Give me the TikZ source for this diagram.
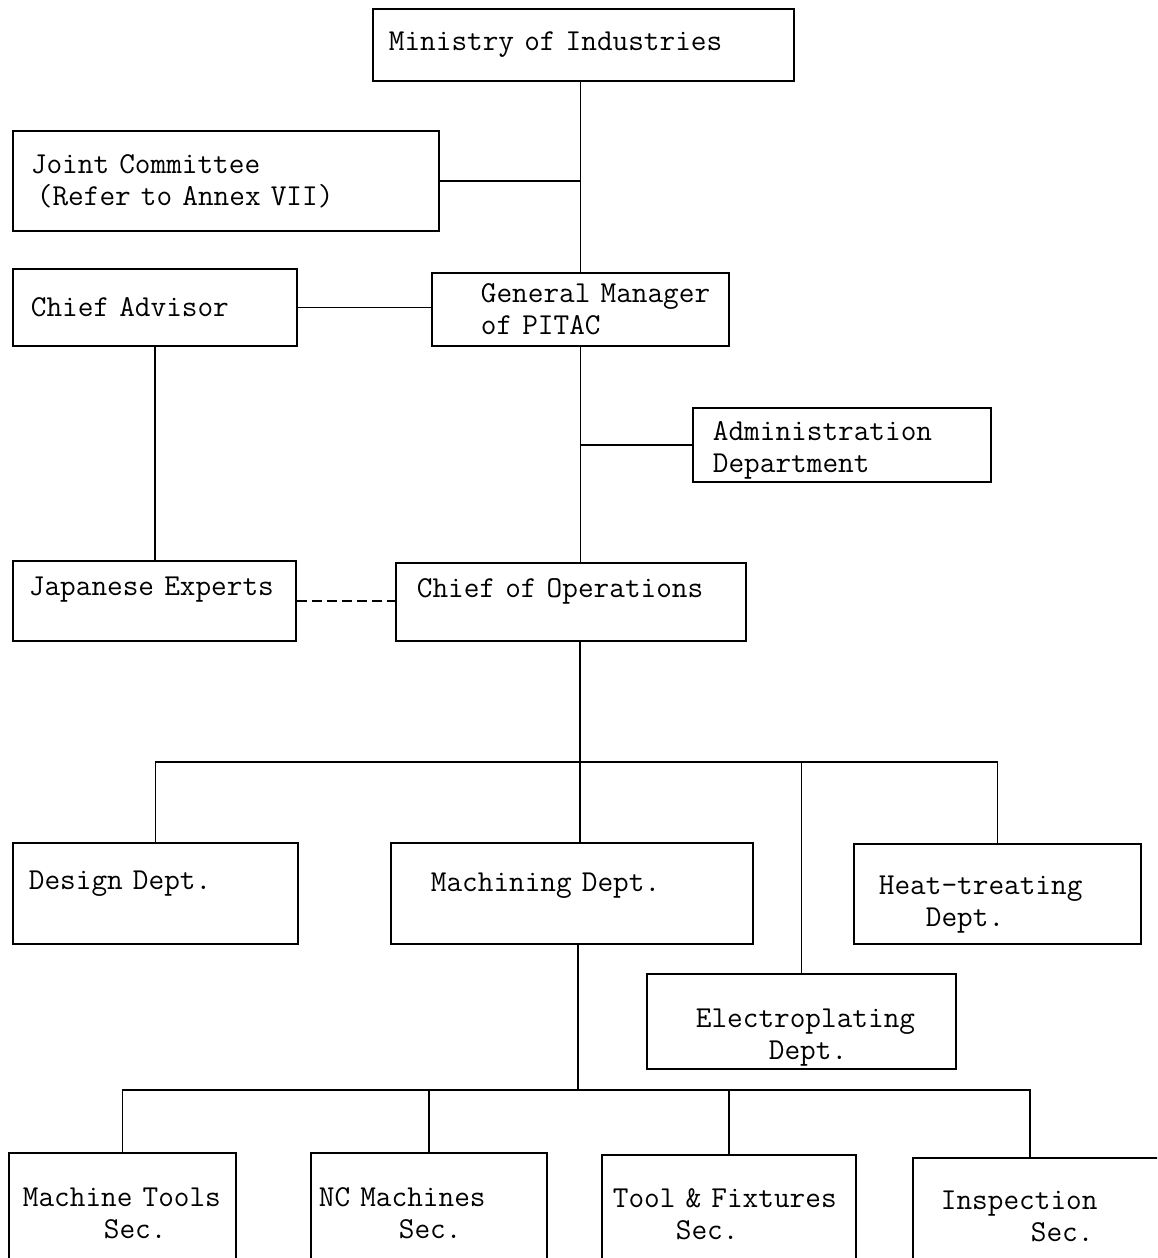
\documentclass[tikz,border=0pt]{standalone}
\usepackage{tikz}
\newcommand{\ind}[1]{\hspace*{#1pt}}

\begin{document}
\begin{tikzpicture}[x=0.5pt,y=-0.5pt,line width=0.9pt]
\tikzset{font=\fontsize{15.2pt}{16pt}\selectfont\ttfamily}
\tikzset{unit/.style={draw,anchor=north west,inner sep=0pt,align=left}}

\useasboundingbox (0,0) rectangle (1157,1258);
\clip (0,0) rectangle (1157,1258);

        % top of the chart
        \node[unit, text width=210.5pt, minimum height=36pt]   (min) at (372,8)    {\ind{8}Ministry of Industries};
        \node[unit, text width=213pt, minimum height=50pt]     (jc)  at (12,130)   {\ind{9}Joint Committee\\\ind{12}(Refer to Annex VII)};
        \node[unit, text width=142pt, minimum height=38.5pt]   (ca)  at (12,268)   {\ind{9}Chief Advisor};
        \node[unit, text width=148.5pt, minimum height=36.5pt] (gm)  at (431,272)  {\ind{24.5}General Manager\\\ind{24.5}of PITAC};
        \node[unit, text width=149pt, minimum height=37pt, text height=15.3pt] (adm) at (692,407) {\ind{10}Administration\\\ind{10}Department};
        \node[unit, text width=141.5pt, minimum height=40pt, text depth=15pt] (je) at (12,560) {\ind{8}Japanese Experts};
        \node[unit, text width=175pt, minimum height=39pt, text depth=14pt]  (coo) at (395,562) {\ind{10.5}Chief of Operations};

        % departments
        \node[unit, text width=142.5pt, minimum height=50.5pt, text depth=13pt] (dd) at (12,842)  {\ind{8}Design Dept.};
        \node[unit, text width=181pt, minimum height=50.5pt, text depth=11pt]   (md) at (390,842) {\ind{20}Machining Dept.};
        \node[unit, text width=143.5pt, minimum height=50pt, text height=19.5pt]  (ht) at (853,843) {\ind{12.5}Heat-treating\\\ind{36}Dept.};
        \node[unit, text width=154.5pt, minimum height=47.5pt, text height=25.3pt] (ep) at (646,973) {\ind{24.5}Electroplating\\\ind{61}Dept.};

        % sections
        \node[unit, text width=113.5pt, minimum height=60pt] (mt) at (8,1152)   {\ind{7}Machine Tools\\\ind{47.5}Sec.};
        \node[unit, text width=118pt, minimum height=60pt]   (nc) at (310,1152) {\ind{4}NC Machines\\\ind{44}Sec.};
        \node[unit, text width=127pt, minimum height=59pt]   (tf) at (601,1154) {\ind{5.5}Tool \& Fixtures\\\ind{37}Sec.};
        \node[unit, text width=129pt, minimum height=58pt]   (ins) at (912,1157) {\ind{14}Inspection\\\ind{59}Sec.};

        \coordinate (bus1) at (580,762);
        \coordinate (bus2) at (578,1090);
        \coordinate (drop4) at (1030,1090);

        \draw (gm.north) -- (gm.north |- min.south);
        \draw (jc.east) -- (jc.east -| gm.north);
        \draw (ca.east) -- (ca.east -| gm.west);
        \draw (gm.south) -- (gm.south |- coo.north);
        \draw (adm.west) -- (adm.west -| gm.south);
        \draw (ca.south) -- (ca.south |- je.north);
        \draw[dash pattern=on 5pt off 2.5pt] (je.east) -- (je.east -| coo.west);

        \draw (bus1 |- coo.south) -- (bus1);
        \draw (dd.north) |- (ht.north |- bus1) -- (ht.north);
        \draw (bus1) -- (bus1 |- md.north);
        \draw (ep.north) -- (ep.north |- bus1);

        \draw (bus2 |- md.south) -- (bus2);
        \draw (mt.north) |- (drop4) -- (drop4 |- ins.north);
        \draw (nc.north) -- (nc.north |- drop4);
        \draw (tf.north) -- (tf.north |- drop4);
\end{tikzpicture}
\end{document}
